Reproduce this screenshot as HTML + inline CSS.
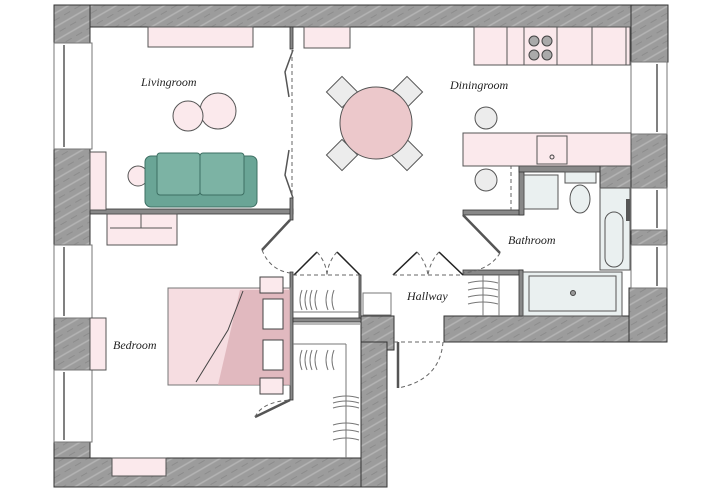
<!DOCTYPE html>
<html><head><meta charset="utf-8"><style>
html,body{margin:0;padding:0;background:#fff}
svg{display:block}
text{font-family:"Liberation Serif",serif;font-style:italic;font-size:12px;fill:#222}
</style></head><body>
<svg width="728" height="491" viewBox="0 0 728 491" xmlns="http://www.w3.org/2000/svg">
<defs>
<pattern id="g" width="12" height="12" patternUnits="userSpaceOnUse" patternTransform="rotate(-30)">
<rect width="12" height="12" fill="#9c9c9c"/><line x1="0" y1="3" x2="12" y2="3" stroke="#b4b4b4" stroke-width="1.5"/><line x1="0" y1="9" x2="7" y2="9" stroke="#8c8c8c" stroke-width="1"/>
</pattern>
</defs>
<g stroke="#333" stroke-width="1">
<rect x="54" y="5" width="614" height="22" fill="url(#g)"/>
<rect x="54" y="5" width="36" height="38" fill="url(#g)"/>
<rect x="631" y="5" width="37" height="57" fill="url(#g)"/>
<rect x="54" y="149" width="36" height="96" fill="url(#g)"/>
<rect x="54" y="318" width="36" height="52" fill="url(#g)"/>
<rect x="54" y="442" width="36" height="45" fill="url(#g)"/>
<rect x="54" y="458" width="333" height="29" fill="url(#g)"/>
<rect x="361" y="316" width="33" height="34" fill="url(#g)"/>
<rect x="361" y="342" width="26" height="145" fill="url(#g)"/>
<rect x="444" y="316" width="223" height="26" fill="url(#g)"/>
<rect x="629" y="288" width="38" height="54" fill="url(#g)"/>
<rect x="631" y="134" width="36" height="54" fill="url(#g)"/>
<rect x="631" y="230" width="36" height="15" fill="url(#g)"/>
<rect x="600" y="166" width="31" height="22" fill="url(#g)"/>
</g>
<g fill="#fff" stroke="#777" stroke-width="1">
<rect x="54" y="43" width="38" height="106"/><rect x="54" y="245" width="38" height="73"/><rect x="54" y="370" width="38" height="72"/>
<rect x="631" y="62" width="36" height="72"/><rect x="631" y="188" width="36" height="42"/><rect x="631" y="245" width="36" height="43"/>
</g>
<g stroke="#555" stroke-width="1.5">
<line x1="64" y1="45" x2="64" y2="147"/><line x1="64" y1="247" x2="64" y2="316"/><line x1="64" y1="372" x2="64" y2="440"/>
<line x1="657" y1="64" x2="657" y2="132"/><line x1="657" y1="190" x2="657" y2="228"/><line x1="657" y1="247" x2="657" y2="286"/>
</g>
<g fill="#888" stroke="#333" stroke-width="0.8">
<rect x="90" y="209" width="203" height="5"/>
<rect x="290" y="27" width="3" height="22"/><rect x="290" y="198" width="3" height="22"/>
<rect x="290" y="272" width="3" height="128"/>
<rect x="293" y="318" width="68" height="4"/>
<rect x="463" y="210" width="60" height="5"/><rect x="519" y="166" width="5" height="49"/><rect x="519" y="166" width="81" height="6"/>
<rect x="463" y="270" width="60" height="5"/><rect x="519" y="270" width="4" height="46"/>
<rect x="359" y="275" width="2" height="43"/>
</g>
<g fill="#fbe9ec" stroke="#555" stroke-width="1">
<rect x="148" y="27" width="105" height="20"/>
<rect x="304" y="27" width="46" height="21"/>
<rect x="90" y="152" width="16" height="58"/>
<rect x="107" y="214" width="70" height="31"/><line x1="110" y1="228" x2="172" y2="228"/><line x1="141" y1="214" x2="141" y2="228"/>
<circle cx="218" cy="111" r="18"/><circle cx="188" cy="116" r="15"/>
<circle cx="138" cy="176" r="10"/>
<rect x="112" y="458" width="54" height="18"/>
<rect x="90" y="318" width="16" height="52"/>
</g>
<g stroke="#3d6f63" stroke-width="1">
<rect x="145" y="156" width="112" height="51" rx="6" fill="#6aa596"/>
<rect x="157" y="153" width="43" height="42" rx="3" fill="#7cb3a4"/>
<rect x="200" y="153" width="44" height="42" rx="3" fill="#7cb3a4"/>
</g>
<g stroke="#555" fill="none" stroke-width="1.5">
<polyline points="293,50 285,72 289,97"/><polyline points="293,198 285,175 289,150"/>
<line x1="290" y1="220" x2="262" y2="250" stroke-width="2.5"/>
<line x1="463" y1="215" x2="500" y2="253" stroke-width="2.5"/>
<line x1="290" y1="400" x2="255" y2="417" stroke-width="2.5"/>
<line x1="398" y1="342" x2="398" y2="388" stroke-width="2.5"/>
<g stroke="#222">
<line x1="294" y1="275" x2="317" y2="252"/><line x1="337" y1="252" x2="360" y2="275"/>
<line x1="393" y1="275" x2="417" y2="252"/><line x1="439" y1="252" x2="463" y2="275"/>
</g>
</g>
<g stroke="#666" fill="none" stroke-dasharray="4,3" stroke-width="1">
<line x1="292" y1="50" x2="292" y2="198"/>
<path d="M262,250 Q270,270 290,273"/><path d="M500,253 Q490,270 463,273"/>
<line x1="293" y1="275" x2="360" y2="275"/><line x1="393" y1="275" x2="463" y2="275"/>
<path d="M317,252 Q326,262 327,275 M337,252 Q328,262 327,275"/>
<path d="M417,252 Q426,262 428,275 M439,252 Q430,262 428,275"/>
<line x1="394" y1="342" x2="443" y2="342"/><path d="M443,342 Q440,380 398,388"/>
<path d="M255,417 Q262,402 290,400"/>
<line x1="511" y1="144" x2="631" y2="144"/><line x1="511" y1="144" x2="511" y2="213"/>
<line x1="474" y1="54" x2="630" y2="54"/>
</g>
<g fill="#ececec" stroke="#555">
<rect x="331" y="81" width="22" height="22" transform="rotate(45 342 92)"/>
<rect x="396" y="81" width="22" height="22" transform="rotate(45 407 92)"/>
<rect x="331" y="144" width="22" height="22" transform="rotate(45 342 155)"/>
<rect x="396" y="144" width="22" height="22" transform="rotate(45 407 155)"/>
<circle cx="486" cy="118" r="11"/><circle cx="486" cy="180" r="11"/>
</g>
<circle cx="376" cy="123" r="36" fill="#ecc8cb" stroke="#555"/>
<g fill="#fbe9ec" stroke="#555">
<rect x="474" y="27" width="156" height="38"/>
<rect x="463" y="133" width="168" height="33"/>
<rect x="537" y="136" width="30" height="28"/>
</g>
<g stroke="#555" fill="none"><line x1="507" y1="27" x2="507" y2="65"/><line x1="524" y1="27" x2="524" y2="65"/><line x1="557" y1="27" x2="557" y2="65"/><line x1="592" y1="27" x2="592" y2="65"/><line x1="626" y1="27" x2="626" y2="65"/></g>
<g fill="#aaa" stroke="#444"><circle cx="534" cy="41" r="5"/><circle cx="547" cy="41" r="5"/><circle cx="534" cy="55" r="5"/><circle cx="547" cy="55" r="5"/></g>
<circle cx="552" cy="157" r="2" fill="none" stroke="#444"/>
<g fill="#eaf0f0" stroke="#555">
<rect x="524" y="175" width="34" height="34"/>
<rect x="565" y="172" width="31" height="11"/>
<ellipse cx="580" cy="199" rx="10" ry="14"/>
<rect x="600" y="188" width="30" height="82"/>
<rect x="605" y="212" width="18" height="55" rx="9"/>
<rect x="523" y="272" width="99" height="44"/>
<rect x="529" y="276" width="87" height="35"/>
</g>
<rect x="626" y="199" width="4" height="22" fill="#555"/>
<circle cx="573" cy="293" r="2.5" fill="#999" stroke="#444"/>
<rect x="168" y="288" width="122" height="97" fill="#f6dde1" stroke="#777"/>
<path d="M240,290 L218,385 L290,385 L290,290Z" fill="#d9a9b1" opacity="0.7"/>
<polyline points="243,291 228,330 196,382" fill="none" stroke="#444"/>
<g fill="#fff" stroke="#444">
<rect x="263" y="299" width="20" height="30"/><rect x="263" y="340" width="20" height="30"/>
</g>
<g fill="#fbe9ec" stroke="#444"><rect x="260" y="277" width="23" height="16"/><rect x="260" y="378" width="23" height="16"/></g>
<g stroke="#777" fill="none">
<line x1="293" y1="324" x2="360" y2="324"/><line x1="293" y1="312" x2="360" y2="312"/>
<line x1="293" y1="344" x2="346" y2="344"/><line x1="346" y1="344" x2="346" y2="458"/>
<path d="M302,310 q-4,-10 0,-20 M307,310 q-4,-10 0,-20 M312,310 q-4,-10 0,-20 M317,310 q-4,-10 0,-20 M328,310 q-4,-10 0,-20 M334,310 q-4,-10 0,-20"/>
<path d="M302,350 q-4,10 0,20 M307,350 q-4,10 0,20 M312,350 q-4,10 0,20 M317,350 q-4,10 0,20 M328,350 q-4,10 0,20 M334,350 q-4,10 0,20"/>
<path d="M333,398 q13,-4 26,0 M333,403 q13,-4 26,0 M333,408 q13,-4 26,0 M333,425 q13,-4 26,0 M333,432 q13,-4 26,0 M333,440 q13,-4 26,0"/>
<path d="M468,283 q15,-4 30,0 M468,290 q15,-4 30,0 M468,297 q15,-4 30,0 M468,304 q15,-4 30,0"/>
<line x1="483" y1="275" x2="483" y2="316"/><line x1="499" y1="275" x2="499" y2="316"/>
<rect x="363" y="293" width="28" height="22" fill="#fff"/>
</g>
<text x="141" y="86">Livingroom</text>
<text x="450" y="89">Diningroom</text>
<text x="508" y="244">Bathroom</text>
<text x="407" y="300">Hallway</text>
<text x="113" y="349">Bedroom</text>
</svg>
</body></html>
